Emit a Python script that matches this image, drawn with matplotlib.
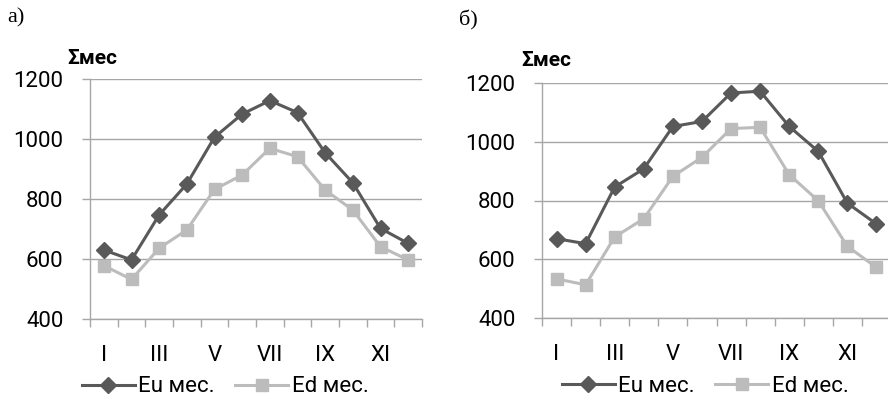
import numpy as np
import matplotlib
matplotlib.use('Agg')
import matplotlib.pyplot as plt
from matplotlib.ticker import FixedLocator

plt.rcParams['font.family'] = ['Roboto', 'DejaVu Sans']

months = ['I', 'II', 'III', 'IV', 'V', 'VI', 'VII', 'VIII', 'IX', 'X', 'XI', 'XII']
# panel а)
eu_a = [630, 597, 747, 850, 1006, 1083, 1128, 1088, 954, 854, 702, 652]
ed_a = [578, 532, 636, 697, 832, 880, 969, 941, 830, 763, 641, 597]
# panel б)
eu_b = [670, 653, 846, 908, 1052, 1069, 1166, 1172, 1052, 967, 791, 720]
ed_b = [533, 513, 676, 738, 882, 947, 1045, 1049, 888, 799, 644, 572]

W, H = 888, 401
fig = plt.figure(figsize=(W / 100, H / 100), dpi=100)

c_eu = '#595959'
c_ed = '#bcbcbc'
c_ax = '#a6a6a6'


def draw(rect, eu, ed, letter, letter_xy, ylab_xy, leg_xy):
    ax = fig.add_axes([rect[0] / W, (H - rect[3]) / H, (rect[2] - rect[0]) / W, (rect[3] - rect[1]) / H])
    x = np.arange(len(months))
    ax.plot(x, eu, color=c_eu, lw=2.2, marker='D', ms=8, mfc=c_eu, mec=c_eu, label='Eu мес.', zorder=4)
    ax.plot(x, ed, color=c_ed, lw=2.2, marker='s', ms=9, mfc=c_ed, mec=c_ed, label='Ed мес.', zorder=3)
    ax.set_xlim(-0.5, 11.5)
    ax.set_ylim(400, 1200)
    ax.set_yticks([400, 600, 800, 1000, 1200])
    ax.yaxis.grid(True, color=c_ax, lw=1)
    ax.set_axisbelow(True)
    ax.xaxis.set_major_locator(FixedLocator(x[::2]))
    ax.set_xticklabels(months[::2])
    ax.xaxis.set_minor_locator(FixedLocator(np.arange(-0.5, 12, 1)))
    ax.tick_params(axis='x', which='major', length=0, pad=19, labelsize=16)
    ax.tick_params(axis='x', which='minor', length=5.5, width=1, color=c_ax, direction='out')
    ax.tick_params(axis='y', length=6, width=1, color=c_ax, direction='out', pad=13, labelsize=16)
    for s in ['top', 'right']:
        ax.spines[s].set_visible(False)
    for s in ['left', 'bottom']:
        ax.spines[s].set_color(c_ax)
        ax.spines[s].set_linewidth(1)
    fig.text(letter_xy[0] / W, 1 - letter_xy[1] / H, letter, family='Liberation Serif',
             fontsize=16, ha='left', va='center')
    fig.text(ylab_xy[0] / W, 1 - ylab_xy[1] / H, 'Σмес', fontsize=15, fontweight='bold',
             ha='left', va='center')
    h, l = ax.get_legend_handles_labels()
    fig.legend(h, l, loc='center', bbox_to_anchor=(leg_xy[0] / W, 1 - leg_xy[1] / H), ncol=2,
               frameon=False, fontsize=16, handlelength=2.4, columnspacing=0.9, handletextpad=0.15)
    return ax


draw((90, 79, 422, 319), eu_a, ed_a, 'а)', (7, 18), (67, 58), (225, 387))
draw((542, 83, 891, 318), eu_b, ed_b, 'б)', (459, 20), (521, 60), (705, 386))

fig.savefig('out.png', dpi=100)
